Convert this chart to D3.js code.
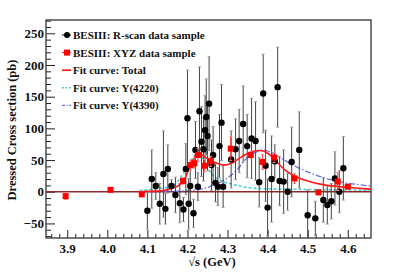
<!DOCTYPE html>
<html>
<head>
<meta charset="utf-8">
<script src="https://cdn.jsdelivr.net/npm/d3@7"></script>
<style>
  body { margin: 0; background: #fff; }
  svg text { font-family: "Liberation Serif", "Times New Roman", serif; font-weight: 700; }
</style>
</head>
<body>
<div id="plot"></div>
<script>
// R-scan data: sqrt(s) [GeV], dressed cross section [pb], error
var rscanX = [4.100, 4.111, 4.121, 4.131, 4.140, 4.145, 4.151, 4.160, 4.170, 4.181,
              4.190, 4.196, 4.200, 4.203, 4.207, 4.215, 4.220, 4.226, 4.230, 4.235,
              4.240, 4.244, 4.247, 4.250, 4.254, 4.260, 4.264, 4.270, 4.276, 4.280,
              4.285, 4.289, 4.309, 4.320, 4.329, 4.339, 4.349, 4.360, 4.370, 4.379,
              4.389, 4.395, 4.400, 4.410, 4.418, 4.425, 4.430, 4.440, 4.450, 4.460,
              4.479, 4.500, 4.519, 4.539, 4.549, 4.559, 4.568, 4.579, 4.589];
var rscanY = [-30, 20, 9, -19, 28, -27, 36, 9, -5, -18,
              -28, 36, 116, -19, 9, -34, 66, 8, 127, 79,
              67, 97, 118, 88, 139, 42, 58, 14, 8, 72,
              109, 8, 51, 67, 80, 107, 72, 84, 80, 15,
              155, 41, -25, 20, 48, 165, 17, 16, 0, 47,
              66, -37, -42, -13, -21, -15, 21, 0, 37];
var rscanErr = [29, 46, 21, 32, 68, 24, 38, 10, 28, 31,
                19, 40, 76, 40, 30, 22, 45, 22, 70, 55,
                50, 55, 60, 55, 74, 40, 45, 30, 30, 50,
                60, 33, 45, 48, 50, 60, 50, 63, 62, 39,
                62, 56, 45, 68, 26, 63, 39, 50, 29, 55,
                60, 40, 27, 35, 30, 28, 42, 33, 50];

// XYZ data
var xyzX = [3.896, 4.008, 4.086, 4.189, 4.208, 4.217, 4.226, 4.242, 4.258,
            4.308, 4.358, 4.387, 4.416, 4.467, 4.527, 4.575, 4.600];
var xyzY = [-7, 3, -4, 17, 42, 45, 58, 41, 48, 68, 58, 47, 54, 21, -1, 16, 8];
var xyzErr = [5, 3, 4, 5, 8, 8, 10, 10, 8, 19, 5, 12, 8, 8, 3, 14, 3];

// fit curves
var totalX = [4.08, 4.10, 4.12, 4.14, 4.16, 4.173, 4.19, 4.206, 4.223, 4.232, 4.248, 4.269,
              4.29, 4.31, 4.335, 4.36, 4.381, 4.402, 4.423, 4.448, 4.473, 4.50, 4.531,
              4.58, 4.62, 4.658];
var totalY = [0, 0.5, 1, 2, 5, 8, 17, 39, 58, 59, 53, 46, 42, 45, 55, 63, 65, 60, 47, 32,
              23, 17, 12, 8, 6, 4];
var y4220X = [4.08, 4.10, 4.123, 4.14, 4.165, 4.19, 4.21, 4.223, 4.235, 4.248, 4.264,
              4.29, 4.323, 4.381, 4.464, 4.55, 4.658];
var y4220Y = [2, 3, 5, 6, 10, 29, 50, 60, 55, 40, 26, 16, 10, 5, 4, 3, 2.5];
var y4390X = [4.08, 4.15, 4.20, 4.24, 4.264, 4.298, 4.323, 4.348, 4.373, 4.389, 4.414,
              4.439, 4.464, 4.48, 4.531, 4.58, 4.658];
var y4390Y = [0, 0.5, 2, 5, 10, 21, 34, 53, 63, 66, 60, 51, 42, 37, 24, 16, 9];

var xMajor = [3.9, 4.0, 4.1, 4.2, 4.3, 4.4, 4.5, 4.6];
var yMajor = [-50, 0, 50, 100, 150, 200, 250];

var legendLabels = ["BESIII: R-scan data sample", "BESIII: XYZ data sample",
                    "Fit curve: Total", "Fit curve: Y(4220)", "Fit curve: Y(4390)"];

var W = 405, H = 274;
var frame = {left: 46, right: 371, top: 20, bottom: 238};
var serif = "Liberation Serif";

var svg = d3.select("#plot").append("svg")
    .attr("width", W).attr("height", H);

var x = d3.scaleLinear().domain([3.847, 4.658]).range([frame.left, frame.right]);
var y = d3.scaleLinear().domain([-73, 271]).range([frame.bottom, frame.top]);

svg.append("clipPath").attr("id", "clip")
  .append("rect")
    .attr("x", frame.left).attr("y", frame.top)
    .attr("width", frame.right - frame.left).attr("height", frame.bottom - frame.top);

// minor ticks
var xMinor = d3.range(3.86, 4.659, 0.02).filter(function(v) {
  return !xMajor.some(function(m) { return Math.abs(m - v) < 1e-6; });
});
var yMinor = d3.range(-70, 271, 10).filter(function(v) { return v % 50 !== 0; });

svg.append("g")
    .attr("transform", "translate(0," + frame.bottom + ")")
    .call(d3.axisBottom(x).tickValues(xMinor).tickSize(-4).tickFormat(""))
    .call(function(g) { g.select(".domain").remove(); });
svg.append("g").attr("class", "xaxis")
    .attr("transform", "translate(0," + frame.bottom + ")")
    .call(d3.axisBottom(x).tickValues(xMajor).tickSize(-8).tickPadding(6)
      .tickFormat(d3.format(".1f")))
    .call(function(g) { g.select(".domain").remove(); });

svg.append("g")
    .attr("transform", "translate(" + frame.left + ",0)")
    .call(d3.axisLeft(y).tickValues(yMinor).tickSize(-5).tickFormat(""))
    .call(function(g) { g.select(".domain").remove(); });
svg.append("g").attr("class", "yaxis")
    .attr("transform", "translate(" + frame.left + ",0)")
    .call(d3.axisLeft(y).tickValues(yMajor).tickSize(-9).tickPadding(2))
    .call(function(g) { g.select(".domain").remove(); });

svg.selectAll(".tick line").attr("stroke", "#222").attr("stroke-width", 1);
svg.selectAll(".xaxis, .yaxis")
    .attr("font-family", serif).attr("font-size", 13).attr("font-weight", 700);
svg.selectAll(".xaxis text, .yaxis text")
    .attr("font-size", 13).attr("font-weight", 700).attr("fill", "#111")
    .attr("font-family", serif);

// frame
svg.append("rect")
    .attr("x", frame.left).attr("y", frame.top)
    .attr("width", frame.right - frame.left).attr("height", frame.bottom - frame.top)
    .attr("fill", "none").attr("stroke", "#333").attr("stroke-width", 1.3);

// axis titles
svg.append("text")
    .attr("text-anchor", "middle")
    .attr("transform", "translate(16,130) rotate(-90)")
    .attr("font-size", 12.5).attr("font-weight", 700).attr("fill", "#111")
    .text("Dressed Cross section (pb)");
svg.append("text")
    .attr("text-anchor", "middle")
    .attr("x", 212).attr("y", 266)
    .attr("font-size", 12.5).attr("font-weight", 700).attr("fill", "#111")
    .text("\u221As (GeV)");

var plot = svg.append("g").attr("clip-path", "url(#clip)");

// zero line
plot.append("line")
    .attr("x1", frame.left).attr("x2", frame.right)
    .attr("y1", y(0)).attr("y2", y(0))
    .attr("stroke", "#8b2a2a").attr("stroke-width", 1.5);

var line = d3.line()
    .x(function(d) { return x(d[0]); })
    .y(function(d) { return y(d[1]); })
    .curve(d3.curveMonotoneX);

plot.append("path")
    .attr("d", line(d3.zip(y4390X, y4390Y)))
    .attr("fill", "none").attr("stroke", "#6f6fe0").attr("stroke-width", 1.3)
    .attr("stroke-dasharray", "6,2,1.5,2");
plot.append("path")
    .attr("d", line(d3.zip(y4220X, y4220Y)))
    .attr("fill", "none").attr("stroke", "#55cccc").attr("stroke-width", 1.6)
    .attr("stroke-dasharray", "3,2");

// error bars
function errBars(g, xs, ys, es, color, capColor) {
  var d = d3.zip(xs, ys, es);
  g.selectAll(null).data(d).enter().append("line")
      .attr("x1", function(p) { return x(p[0]); })
      .attr("x2", function(p) { return x(p[0]); })
      .attr("y1", function(p) { return y(p[1] - p[2]); })
      .attr("y2", function(p) { return y(p[1] + p[2]); })
      .attr("stroke", color).attr("stroke-width", 1);
  [-1, 1].forEach(function(s) {
    g.selectAll(null).data(d).enter().append("line")
        .attr("x1", function(p) { return x(p[0]) - 1.5; })
        .attr("x2", function(p) { return x(p[0]) + 1.5; })
        .attr("y1", function(p) { return y(p[1] + s * p[2]); })
        .attr("y2", function(p) { return y(p[1] + s * p[2]); })
        .attr("stroke", capColor).attr("stroke-width", 1);
  });
}

var eb = plot.append("g");
errBars(eb, rscanX, rscanY, rscanErr, "#444", "#999");

plot.append("path")
    .attr("d", line(d3.zip(totalX, totalY)))
    .attr("fill", "none").attr("stroke", "#ff1a1a").attr("stroke-width", 1.6);

plot.append("g").selectAll("circle")
  .data(d3.zip(rscanX, rscanY))
  .enter().append("circle")
    .attr("cx", function(d) { return x(d[0]); })
    .attr("cy", function(d) { return y(d[1]); })
    .attr("r", 3.2)
    .attr("fill", "#000");

var ebr = plot.append("g");
errBars(ebr, xyzX, xyzY, xyzErr, "#ff3030", "#ff8080");

plot.append("g").selectAll("rect")
  .data(d3.zip(xyzX, xyzY))
  .enter().append("rect")
    .attr("x", function(d) { return x(d[0]) - 3; })
    .attr("y", function(d) { return y(d[1]) - 3; })
    .attr("width", 6).attr("height", 6)
    .attr("fill", "#ff0000");

// legend
var leg = svg.append("g").attr("transform", "translate(62,35)");
var rowH = 17.6;
var rows = legendLabels.map(function(t, i) {
  var g = leg.append("g").attr("transform", "translate(0," + (i * rowH) + ")");
  g.append("text").attr("x", 11).attr("y", 4)
      .attr("font-size", 11).attr("font-weight", 700).attr("fill", "#111").text(t);
  return g;
});
rows[0].append("line").attr("x1", 0).attr("x2", 9).attr("stroke", "#000");
rows[0].append("circle").attr("cx", 5).attr("r", 3).attr("fill", "#000");
rows[1].append("line").attr("x1", 0).attr("x2", 9).attr("stroke", "#ff0000");
rows[1].append("rect").attr("x", 2).attr("y", -3).attr("width", 6).attr("height", 6).attr("fill", "#ff0000");
rows[2].append("line").attr("x1", 0).attr("x2", 9)
    .attr("stroke", "#ff1a1a").attr("stroke-width", 1.6);
rows[3].append("line").attr("x1", 0).attr("x2", 9)
    .attr("stroke", "#55cccc").attr("stroke-width", 1.5).attr("stroke-dasharray", "2,1.5");
rows[4].append("line").attr("x1", 0).attr("x2", 9)
    .attr("stroke", "#6f6fe0").attr("stroke-width", 1.2).attr("stroke-dasharray", "3,1.5,1,1.5");
</script>
</body>
</html>
